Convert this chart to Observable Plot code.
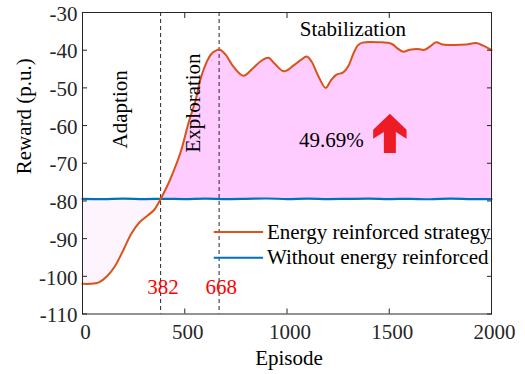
<!DOCTYPE html>
<html><head><meta charset="utf-8">
<script src="https://cdn.jsdelivr.net/npm/d3@7"></script>
<script src="https://cdn.jsdelivr.net/npm/@observablehq/plot@0.6"></script>
<style>
body{margin:0;background:#fff}
#chart svg{display:block}
#chart svg, #chart svg text{font-family:"Liberation Serif","Times New Roman",serif !important}
</style>
</head><body><div id="chart"></div>
<script>
// ---- data ----
const episodes = [0, 40, 80, 120, 160, 200, 240, 280, 320, 350, 382, 410, 431, 480, 520, 553, 578, 611, 630, 650, 670, 700, 740, 787, 830, 870, 909, 940, 985, 1031, 1070, 1096, 1120, 1150, 1189, 1215, 1242, 1275, 1300, 1324, 1345, 1370, 1450, 1511, 1540, 1568, 1600, 1640, 1673, 1700, 1730, 1760, 1800, 1876, 1925, 1960, 2000];
const rewardEnergy = [-102, -102, -101.6, -100, -97.2, -93, -88.6, -85.6, -83.8, -82.4, -79.5, -76.5, -74, -67, -59, -53.3, -47.5, -42.7, -41, -40.2, -39.8, -41.2, -44.5, -46.8, -45, -43, -42, -43.6, -45.6, -44.1, -42.5, -41.7, -43, -46.5, -50, -48, -46.5, -45.9, -44.2, -41, -38.8, -38, -37.9, -38.3, -39.5, -40.4, -39.9, -39.7, -39.9, -39, -37.9, -38.5, -38.6, -38.5, -38.1, -38.8, -40.0];
const baseEpisodes = [0, 100, 200, 300, 400, 500, 600, 700, 800, 900, 1000, 1100, 1200, 1300, 1400, 1500, 1600, 1700, 1800, 1900, 2000];
const rewardBase = [-79.45, -79.5, -79.4, -79.5, -79.45, -79.5, -79.4, -79.5, -79.45, -79.35, -79.5, -79.4, -79.5, -79.45, -79.4, -79.5, -79.45, -79.55, -79.4, -79.5, -79.5];
const xTicks = [0, 500, 1000, 1500, 2000];
const yTicks = [-110, -100, -90, -80, -70, -60, -50, -40, -30];
const phaseBounds = [382, 668];
const boundLabels = ["382", "668"];
const seriesNames = ["Energy reinforced strategy", "Without energy reinforced"];
const phaseNames = ["Adaption", "Exploration", "Stabilization"];
const improvementLabel = "49.69%";

// ---- derived tables ----
const baseAt = e => {
  const i = Math.min(baseEpisodes.length - 2, Math.max(0, d3.bisectRight(baseEpisodes, e) - 1));
  const t = (e - baseEpisodes[i]) / (baseEpisodes[i + 1] - baseEpisodes[i]);
  return rewardBase[i] + t * (rewardBase[i + 1] - rewardBase[i]);
};
const energyRows = episodes.map((e, i) => ({e, r: rewardEnergy[i], b: baseAt(e)}));
const baseRows = baseEpisodes.map((e, i) => ({e, r: rewardBase[i]}));
const belowRows = energyRows.filter(d => d.e <= phaseBounds[0]);
const aboveRows = energyRows.filter(d => d.e >= phaseBounds[0]);

const ORANGE = "#D95319", BLUE = "#0072BD", AX = "#262626";
const FONT = "Liberation Serif";

// annotation placement (data units)
const phaseText = [
  {text: phaseNames[0], e: 183, r: -55.7, rot: -90},
  {text: phaseNames[1], e: 541, r: -54.0, rot: -90},
  {text: phaseNames[2], e: 1322, r: -34.4, rot: 0},
  {text: improvementLabel, e: 1217, r: -63.9, rot: 0}
];
const boundText = [
  {text: boundLabels[0], e: 394, r: -102.9},
  {text: boundLabels[1], e: 679, r: -102.9}
];
const legendRows = [
  {name: seriesNames[0], color: ORANGE, e1: 642, e2: 883, et: 902, r: -88.27},
  {name: seriesNames[1], color: BLUE, e1: 642, e2: 883, et: 902, r: -95.07}
];
const arrowAt = [{e: 1503, r: -67.3}];
const fatArrow = {
  draw(ctx, l) {
    const k = l / 39.4;
    ctx.moveTo(-6 * k, 0);
    ctx.lineTo(-6 * k, -21 * k);
    ctx.lineTo(-16.7 * k, -14.4 * k);
    ctx.lineTo(-16.7 * k, -23.4 * k);
    ctx.lineTo(0, -l);
    ctx.lineTo(16.7 * k, -23.4 * k);
    ctx.lineTo(16.7 * k, -14.4 * k);
    ctx.lineTo(6 * k, -21 * k);
    ctx.lineTo(6 * k, 0);
    ctx.closePath();
  }
};

const fmt = d => String(d);
const chart = Plot.plot({
  width: 525,
  height: 374,
  marginLeft: 82,
  marginRight: 34,
  marginTop: 12,
  marginBottom: 60.5,
  style: {fontFamily: FONT, fontSize: "21px", background: "white", color: AX},
  x: {domain: [0, 2000]},
  y: {domain: [-110, -30]},
  marks: [
    Plot.areaY(belowRows, {x: "e", y1: "b", y2: "r", fill: "#fdf4fd", curve: "catmull-rom"}),
    Plot.areaY(aboveRows, {x: "e", y1: "b", y2: "r", fill: "#ffccff", curve: "catmull-rom"}),
    Plot.ruleX(phaseBounds, {x: d => d, stroke: AX, strokeWidth: 1, strokeDasharray: "4,3"}),
    Plot.line(baseRows, {x: "e", y: "r", stroke: BLUE, strokeWidth: 2.2, curve: "catmull-rom"}),
    Plot.line(energyRows, {x: "e", y: "r", stroke: ORANGE, strokeWidth: 2, curve: "catmull-rom"}),
    Plot.text(phaseText, {x: "e", y: "r", text: "text", rotate: "rot", fill: "#000", fontSize: 21, fontFamily: FONT, lineAnchor: "middle"}),
    Plot.text(boundText, {x: "e", y: "r", text: "text", fill: "#ff0000", fontSize: 21, fontFamily: FONT, lineAnchor: "middle"}),
    Plot.link(legendRows, {x1: "e1", x2: "e2", y1: "r", y2: "r", stroke: "color", strokeWidth: 2}),
    Plot.text(legendRows, {x: "et", y: "r", text: "name", fill: "#000", fontSize: 21, fontFamily: FONT, textAnchor: "start", lineAnchor: "middle"}),
    Plot.vector(arrowAt, {x: "e", y: "r", length: 39.4, anchor: "start", shape: fatArrow, fill: "#ED1C24", stroke: "none"}),
    Plot.frame({stroke: AX, strokeWidth: 1}),
    Plot.axisX(xTicks, {anchor: "bottom", tickSize: 0, tickPadding: 10.5, dx: 3, fontSize: 21, fontFamily: FONT, tickFormat: fmt, label: null, fill: AX}),
    Plot.axisX(xTicks, {anchor: "bottom", tickSize: -5, fill: "none", label: null, stroke: AX}),
    Plot.axisX(xTicks, {anchor: "top", tickSize: -5, fill: "none", label: null, stroke: AX}),
    Plot.axisY(yTicks, {anchor: "left", tickSize: 0, tickPadding: 5, dy: 1.5, fontSize: 21, fontFamily: FONT, tickFormat: fmt, label: null, fill: AX}),
    Plot.axisY(yTicks, {anchor: "left", tickSize: -5, fill: "none", label: null, stroke: AX}),
    Plot.axisY(yTicks, {anchor: "right", tickSize: -5, fill: "none", label: null, stroke: AX}),
    Plot.text(["Episode"], {frameAnchor: "bottom", dy: 43.8, dx: 2, text: d => d, fill: "#000", fontSize: 21, fontFamily: FONT, lineAnchor: "middle"}),
    Plot.text(["Reward (p.u.)"], {frameAnchor: "left", dx: -58, dy: 11, rotate: -90, text: d => d, fill: "#000", fontSize: 21, fontFamily: FONT, lineAnchor: "middle"})
  ]
});
document.getElementById("chart").appendChild(chart);
</script>
</body></html>
